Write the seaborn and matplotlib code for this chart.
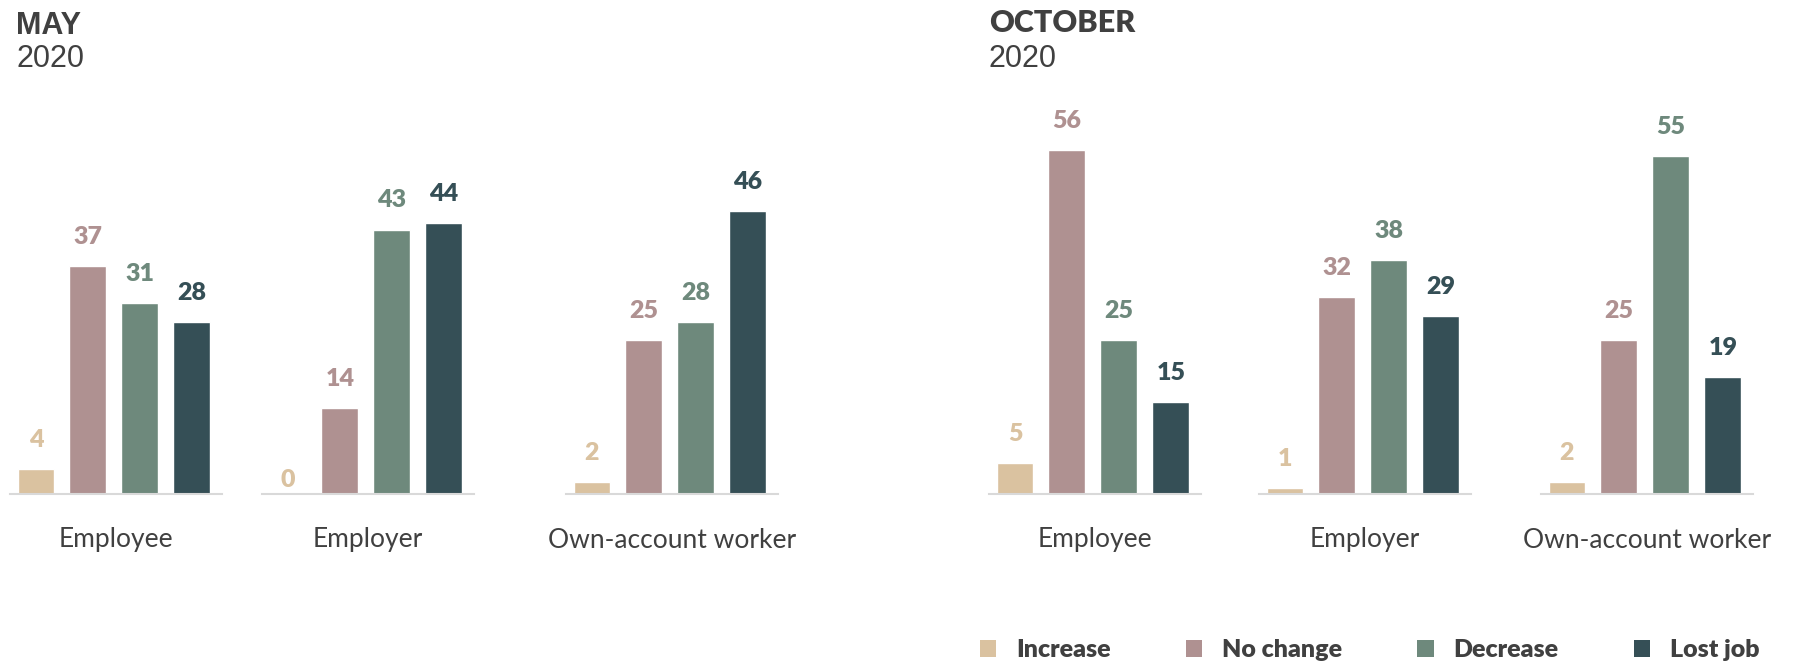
import pandas as pd
import matplotlib.pyplot as plt
import seaborn as sns
from matplotlib.patches import Patch

# Share of workers by change in income, May vs October 2020
categories = ['Employee', 'Employer', 'Own-account worker']
responses = ['Increase', 'No change', 'Decrease', 'Lost job']

may_increase = [4, 0, 2]
may_no_change = [37, 14, 25]
may_decrease = [31, 43, 28]
may_lost_job = [28, 44, 46]

oct_increase = [5, 1, 2]
oct_no_change = [56, 32, 25]
oct_decrease = [25, 38, 55]
oct_lost_job = [15, 29, 19]

colors = ['#dac2a0', '#af9191', '#6e897c', '#354f56']
palette = dict(zip(responses, colors))
text_color = '#404040'


def long_table(period, series):
    rows = []
    for resp, vals in zip(responses, series):
        for cat, v in zip(categories, vals):
            rows.append({'period': period, 'category': cat, 'response': resp, 'value': v})
    return rows


data = pd.DataFrame(
    long_table('MAY', [may_increase, may_no_change, may_decrease, may_lost_job])
    + long_table('OCTOBER', [oct_increase, oct_no_change, oct_decrease, oct_lost_job])
)

sns.set_style('white')
plt.rcParams['font.family'] = ['Lato', 'DejaVu Sans']

W, H = 1798, 665
fig = plt.figure(figsize=(W / 100, H / 100), dpi=100)

# baseline extents (pixels) for each small panel
panel_left = {('MAY', 'Employee'): 10, ('MAY', 'Employer'): 262, ('MAY', 'Own-account worker'): 566,
              ('OCTOBER', 'Employee'): 989, ('OCTOBER', 'Employer'): 1259,
              ('OCTOBER', 'Own-account worker'): 1541}
panel_w = 212
base_y = 494
px_per_unit = 6.15
ymax = 60

for (period, cat), left in panel_left.items():
    ax = fig.add_axes([left / W, (H - base_y) / H, panel_w / W, ymax * px_per_unit / H])
    sub = data[(data['period'] == period) & (data['category'] == cat)]
    sns.barplot(data=sub, x='response', y='value', hue='response', order=responses,
                hue_order=responses, palette=palette, width=0.71, legend=False,
                saturation=1, ax=ax)
    ax.set_xlim(-0.5, 3.58)
    ax.set_ylim(0, ymax)
    for c, col in zip(ax.containers, colors):
        val = c.datavalues[0]
        ax.bar_label(c, fmt='%d', padding=2 if val == 0 else 13, color=col,
                     fontsize=18, fontweight='heavy')
    sns.despine(ax=ax, left=True)
    ax.spines['bottom'].set_color('#d9d9d9')
    ax.spines['bottom'].set_linewidth(1.5)
    ax.set_xticks([])
    ax.set_yticks([])
    ax.set_xlabel('')
    ax.set_ylabel('')
    ax.text(0.5, -46 / (ymax * px_per_unit), cat, transform=ax.transAxes,
            ha='center', va='center', fontsize=19, color=text_color)

# period titles
fig.text(16 / W, 1 - 11 / H, 'MAY', ha='left', va='top', fontsize=22,
         fontweight='bold', color=text_color, family='Liberation Sans')
fig.text(989 / W, 1 - 9 / H, 'OCTOBER', ha='left', va='top', fontsize=22,
         fontweight='heavy', color=text_color, family='Lato')
for x in [16, 989]:
    fig.text(x / W, 1 - 44 / H, '2020', ha='left', va='top', fontsize=22,
             color=text_color, family='Liberation Sans')

handles = [Patch(facecolor=c, edgecolor='none') for c in colors]
fig.legend(handles, responses, loc='center right', bbox_to_anchor=(1782 / W, 1 - 650 / H),
           ncol=4, frameon=False, handlelength=0.65, handleheight=0.65,
           handletextpad=0.8, columnspacing=3.0,
           prop={'size': 18, 'weight': 'heavy', 'family': 'Lato'},
           labelcolor=text_color)

fig.savefig('out.png', dpi=100)
